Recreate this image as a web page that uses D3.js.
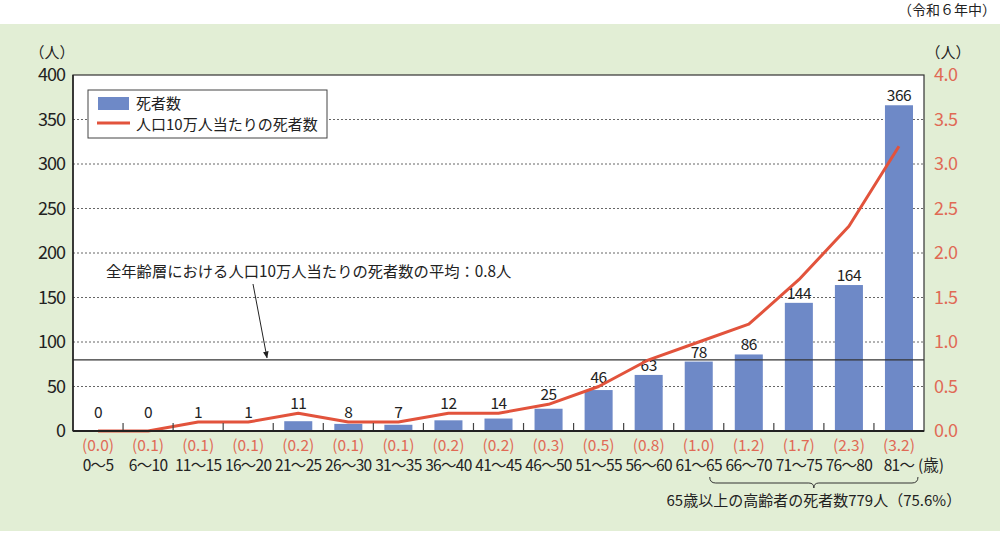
<!DOCTYPE html>
<html><head><meta charset="utf-8">
<script src="https://cdn.jsdelivr.net/npm/d3@7"></script>
<style>
body{margin:0;background:#fff;}
text{font-family:"Noto Sans CJK JP","Noto Sans",sans-serif;}
</style></head>
<body>
<svg id="c" width="1000" height="534"></svg>
<script>
const categories = ["0〜5","6〜10","11〜15","16〜20","21〜25","26〜30","31〜35","36〜40","41〜45","46〜50","51〜55","56〜60","61〜65","66〜70","71〜75","76〜80","81〜"];
const deaths = [0,0,1,1,11,8,7,12,14,25,46,63,78,86,144,164,366];
const ratePlotted = [0.0,0.0,0.1,0.1,0.2,0.1,0.1,0.2,0.2,0.3,0.5,0.8,1.0,1.2,1.7,2.3,3.2];
const rateLabels = ["(0.0)","(0.1)","(0.1)","(0.1)","(0.2)","(0.1)","(0.1)","(0.2)","(0.2)","(0.3)","(0.5)","(0.8)","(1.0)","(1.2)","(1.7)","(2.3)","(3.2)"];
const leftTicks = [0,50,100,150,200,250,300,350,400];
const rightTicks = [0,0.5,1,1.5,2,2.5,3,3.5,4];
const averageRate = 0.8;

const svg = d3.select("#c");
const L=73, R=924, T=75, B=431;
const red="#e2533c", redText="#e06a55", blue="#6e89c7";

svg.append("rect").attr("x",0).attr("y",24).attr("width",1000).attr("height",507).attr("fill","#e2eed5");
svg.append("rect").attr("x",L).attr("y",T).attr("width",R-L).attr("height",B-T).attr("fill","#fff");

const x = d3.scaleBand().domain(categories).range([L,R]).paddingInner(0.44).paddingOuter(0.22);
const yL = d3.scaleLinear().domain([0,400]).range([B,T]);
const yR = d3.scaleLinear().domain([0,4]).range([B,T]);
const cx = c => x(c)+x.bandwidth()/2;

// grid
svg.append("g").selectAll("line").data(leftTicks.filter(d=>d>0&&d<400)).join("line")
  .attr("x1",L).attr("x2",R).attr("y1",d=>yL(d)).attr("y2",d=>yL(d))
  .attr("stroke","#666").attr("stroke-width",1).attr("stroke-dasharray","2,2");

// bars
svg.append("g").selectAll("rect").data(deaths).join("rect")
  .attr("x",(d,i)=>x(categories[i])).attr("width",x.bandwidth())
  .attr("y",d=>yL(d)).attr("height",d=>B-yL(d)).attr("fill",blue);

// value labels (kept above the rate line where the line runs low)
svg.append("g").selectAll("text").data(deaths).join("text")
  .attr("x",(d,i)=>cx(categories[i]))
  .attr("y",(d,i)=>Math.min(yL(d), B-9, ratePlotted[i] <= 0.5 ? yR(ratePlotted[i]) : Infinity) - 4)
  .attr("text-anchor","middle").attr("font-size",15.5).attr("fill","#222").attr("letter-spacing","-0.5")
  .text(d=>d);

// average line
svg.append("line").attr("x1",L).attr("x2",R).attr("y1",yR(averageRate)).attr("y2",yR(averageRate))
  .attr("stroke","#333").attr("stroke-width",1.2);

// rate line
const line = d3.line().x((d,i)=>cx(categories[i])).y(d=>yR(d));
svg.append("path").datum(ratePlotted).attr("d",line).attr("fill","none")
  .attr("stroke",red).attr("stroke-width",3).attr("stroke-linejoin","round");

// x ticks between categories
const bounds = categories.slice(1).map(c=>x(c)-x.step()*x.paddingInner()/2);
svg.append("g").selectAll("line").data(bounds).join("line")
  .attr("x1",d=>d).attr("x2",d=>d).attr("y1",B).attr("y2",B-8).attr("stroke","#444").attr("stroke-width",1.2);

// frame
svg.append("rect").attr("x",L).attr("y",T).attr("width",R-L).attr("height",B-T)
  .attr("fill","none").attr("stroke","#333").attr("stroke-width",1.2);
svg.append("line").attr("x1",L).attr("x2",R).attr("y1",B).attr("y2",B).attr("stroke","#222").attr("stroke-width",2);
svg.append("line").attr("x1",L).attr("x2",L).attr("y1",T).attr("y2",B).attr("stroke","#222").attr("stroke-width",1.5);

// axes
const ga = svg.append("g").attr("transform",`translate(${L},0)`)
  .call(d3.axisLeft(yL).tickValues(leftTicks).tickSize(0).tickPadding(8));
ga.select(".domain").remove();
ga.selectAll("text").attr("font-size",18).attr("fill","#222").attr("letter-spacing","-1")
  .attr("font-family","'Noto Sans CJK JP',sans-serif");
const gr = svg.append("g").attr("transform",`translate(${R},0)`)
  .call(d3.axisRight(yR).tickValues(rightTicks).tickSize(0).tickPadding(10).tickFormat(d3.format(".1f")));
gr.select(".domain").remove();
gr.selectAll("text").attr("font-size",18).attr("fill",redText).attr("letter-spacing","-0.5")
  .attr("font-family","'Noto Sans CJK JP',sans-serif");

svg.append("text").attr("x",52).attr("y",58).attr("text-anchor","middle").attr("font-size",15).attr("fill","#222").text("（人）");
svg.append("text").attr("x",948).attr("y",58).attr("text-anchor","middle").attr("font-size",15).attr("fill","#222").text("（人）");
svg.append("text").attr("x",996).attr("y",15).attr("text-anchor","end").attr("font-size",14).attr("fill","#222").text("（令和６年中）");

// category labels
svg.append("g").selectAll("text").data(rateLabels).join("text")
  .attr("x",(d,i)=>cx(categories[i])).attr("y",451)
  .attr("text-anchor","middle").attr("font-size",15.5).attr("fill",redText).text(d=>d);
svg.append("g").selectAll("text").data(categories).join("text")
  .attr("x",d=>cx(d)).attr("y",471)
  .attr("text-anchor","middle").attr("font-size",15.5).attr("fill","#222").attr("letter-spacing","-0.7").text(d=>d);
svg.append("text").attr("x",918).attr("y",471).attr("font-size",15.5).attr("fill","#222").text("(歳)");

// brace
const bx1 = cx("61〜65")+11, bx2 = cx("81〜")+19, bm = (bx1+bx2)/2;
svg.append("path").attr("d",`M${bx1},477 Q${bx1},483 ${bx1+6},483 L${bm-5},483 Q${bm},483 ${bm},488 Q${bm},483 ${bm+5},483 L${bx2-6},483 Q${bx2},483 ${bx2},477`)
  .attr("fill","none").attr("stroke","#333").attr("stroke-width",1);
svg.append("text").attr("x",bm).attr("y",506).attr("text-anchor","middle").attr("font-size",15).attr("fill","#222")
  .text("65歳以上の高齢者の死者数779人（75.6%）");

// annotation
svg.append("text").attr("x",106).attr("y",277).attr("font-size",15.3).attr("fill","#222")
  .text("全年齢層における人口10万人当たりの死者数の平均：0.8人");
svg.append("defs").append("marker").attr("id","ah").attr("viewBox","0 0 10 10").attr("refX",9).attr("refY",5)
  .attr("markerWidth",7).attr("markerHeight",7).attr("orient","auto")
  .append("path").attr("d","M0,1 L10,5 L0,9 Z").attr("fill","#222");
svg.append("line").attr("x1",253).attr("y1",284).attr("x2",267).attr("y2",yR(averageRate)-2)
  .attr("stroke","#222").attr("stroke-width",1).attr("marker-end","url(#ah)");

// legend
const lg = svg.append("g");
lg.append("rect").attr("x",88).attr("y",90).attr("width",239).attr("height",48).attr("fill","#fff").attr("stroke","#444").attr("stroke-width",1);
lg.append("rect").attr("x",98).attr("y",97).attr("width",31).attr("height",13).attr("fill",blue);
lg.append("line").attr("x1",97).attr("x2",130).attr("y1",123).attr("y2",123).attr("stroke",red).attr("stroke-width",3);
lg.append("text").attr("x",136).attr("y",109).attr("font-size",15).attr("fill","#222").text("死者数");
lg.append("text").attr("x",136).attr("y",130).attr("font-size",15).attr("fill","#222").text("人口10万人当たりの死者数");
</script>
</body></html>
